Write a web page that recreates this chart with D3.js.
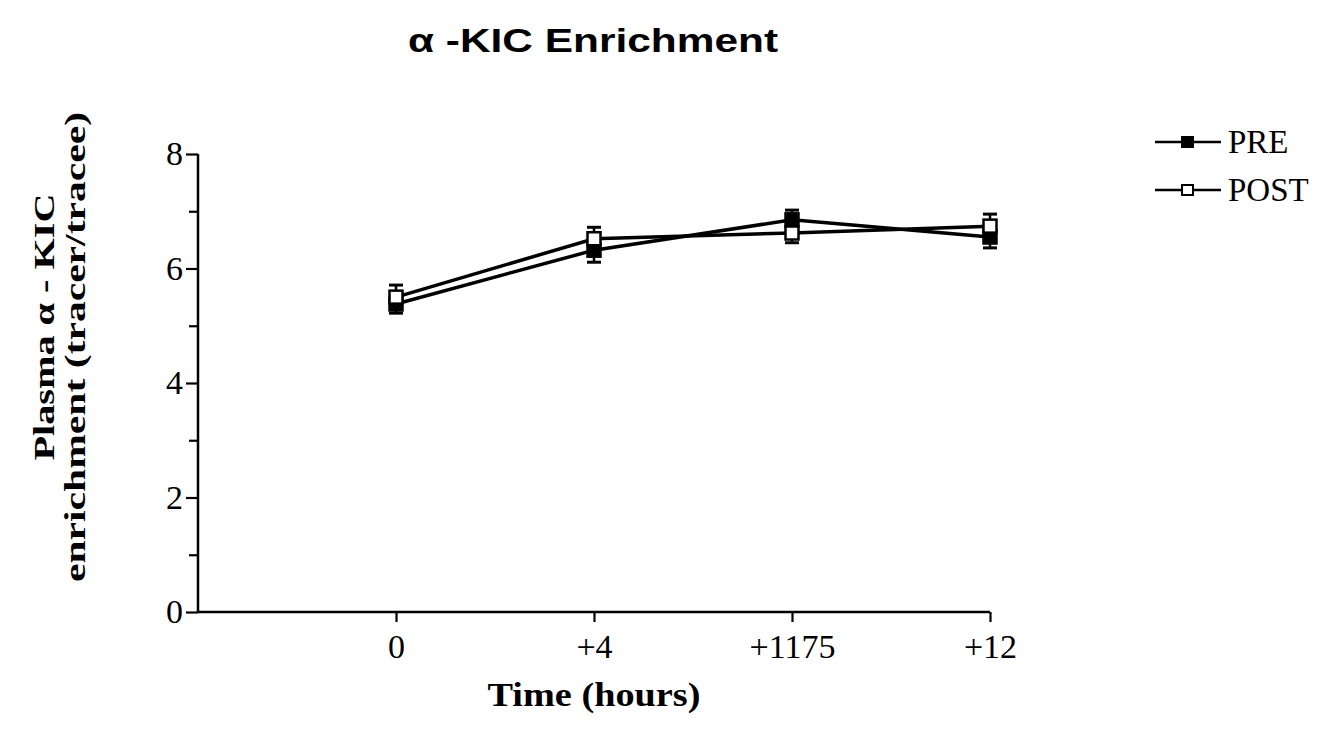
<!DOCTYPE html>
<html>
<head>
<meta charset="utf-8">
<script src="https://cdn.jsdelivr.net/npm/d3@7"></script>
<style>
  body { margin: 0; background: #fff; }
  svg { display: block; }
  .tick text { font-family: "Liberation Serif", "Times New Roman", serif; font-size: 34px; fill: #000; }
</style>
</head>
<body>
<svg></svg>
<script>
// values
var categories = ["0", "+4", "+1175", "+12"];
var pre = [5.38, 6.32, 6.85, 6.55];
var preErr = [0.16, 0.21, 0.17, 0.19];
var post = [5.50, 6.52, 6.62, 6.74];
var postErr = [0.21, 0.20, 0.17, 0.21];
var yMajor = [0, 2, 4, 6, 8];
var yMinor = [1, 3, 5, 7];

var width = 1329;
var height = 745;
var svg = d3.select("svg")
    .attr("width", width)
    .attr("height", height);

var x = d3.scaleLinear().domain([-1, 3]).range([198, 990]);
var y = d3.scaleLinear().domain([0, 8]).range([612, 154]);

// title
svg.append("text")
    .attr("x", 593)
    .attr("y", 52)
    .attr("text-anchor", "middle")
    .attr("textLength", 370)
    .attr("lengthAdjust", "spacingAndGlyphs")
    .style("font-family", "'Liberation Sans', Arial, sans-serif")
    .style("font-weight", "bold")
    .style("font-size", "34px")
    .text("\u03b1 -KIC Enrichment");

// axes
var yAxis = svg.append("g")
    .attr("transform", "translate(" + x(-1) + ",0)")
    .call(d3.axisLeft(y).tickValues(yMajor).tickSize(12).tickPadding(3).tickFormat(d3.format("d")));
var yAxisMinor = svg.append("g")
    .attr("transform", "translate(" + x(-1) + ",0)")
    .call(d3.axisLeft(y).tickValues(yMinor).tickSize(9).tickFormat(""));
var xAxis = svg.append("g")
    .attr("transform", "translate(0," + y(0) + ")")
    .call(d3.axisBottom(x).tickValues([0, 1, 2, 3]).tickSize(10).tickPadding(12)
        .tickFormat((d, i) => categories[i]));

[yAxis, yAxisMinor, xAxis].forEach(g => {
    g.select(".domain").attr("stroke-width", 2.5).attr("stroke", "#000");
    g.selectAll(".tick line").attr("stroke-width", 2.2).attr("stroke", "#000");
});
yAxis.select(".domain").attr("d", "M0," + y(8) + "V" + y(0));
yAxisMinor.select(".domain").remove();
xAxis.select(".domain").attr("d", "M" + x(-1) + ",0H" + x(3));

// axis titles
svg.append("text")
    .attr("transform", "translate(594,706)")
    .attr("text-anchor", "middle")
    .attr("textLength", 213)
    .attr("lengthAdjust", "spacingAndGlyphs")
    .style("font-family", "'Liberation Serif', 'Times New Roman', serif")
    .style("font-weight", "bold")
    .style("font-size", "33px")
    .text("Time (hours)");

svg.append("text")
    .attr("transform", "translate(54,327) rotate(-90)")
    .attr("text-anchor", "middle")
    .attr("textLength", 267)
    .attr("lengthAdjust", "spacingAndGlyphs")
    .style("font-family", "'Liberation Serif', 'Times New Roman', serif")
    .style("font-weight", "bold")
    .style("font-size", "30px")
    .text("Plasma  \u03b1 - KIC");

svg.append("text")
    .attr("transform", "translate(85,347) rotate(-90)")
    .attr("text-anchor", "middle")
    .attr("textLength", 470)
    .attr("lengthAdjust", "spacingAndGlyphs")
    .style("font-family", "'Liberation Serif', 'Times New Roman', serif")
    .style("font-weight", "bold")
    .style("font-size", "30px")
    .text("enrichment (tracer/tracee)");

// series
var series = [
    { name: "PRE", values: pre, err: preErr, fill: "#000" },
    { name: "POST", values: post, err: postErr, fill: "#fff" }
];

var line = d3.line()
    .x((d, i) => x(i))
    .y(d => y(d));

series.forEach(s => {
    svg.append("path")
        .datum(s.values)
        .attr("d", line)
        .attr("fill", "none")
        .attr("stroke", "#000")
        .attr("stroke-width", 3.5);
});

var capW = 7;
series.forEach(s => {
    var g = svg.append("g");
    s.values.forEach((v, i) => {
        var cx = x(i);
        var top = y(v + s.err[i]);
        var bot = y(v - s.err[i]);
        g.append("line").attr("x1", cx).attr("x2", cx).attr("y1", top).attr("y2", bot)
            .attr("stroke", "#000").attr("stroke-width", 2.5);
        g.append("line").attr("x1", cx - capW).attr("x2", cx + capW).attr("y1", top).attr("y2", top)
            .attr("stroke", "#000").attr("stroke-width", 3);
        g.append("line").attr("x1", cx - capW).attr("x2", cx + capW).attr("y1", bot).attr("y2", bot)
            .attr("stroke", "#000").attr("stroke-width", 3);
    });
});

series.forEach(s => {
    svg.append("g")
        .selectAll("rect")
        .data(s.values)
        .enter().append("rect")
        .attr("x", (d, i) => x(i) - 6.5)
        .attr("y", d => y(d) - 6.5)
        .attr("width", 13)
        .attr("height", 13)
        .attr("fill", s.fill)
        .attr("stroke", "#000")
        .attr("stroke-width", 2.5);
});

// legend
var legend = svg.append("g");
series.forEach((s, i) => {
    var ly = 142 + i * 48;
    legend.append("line").attr("x1", 1155).attr("x2", 1221).attr("y1", ly).attr("y2", ly)
        .attr("stroke", "#000").attr("stroke-width", 2.5);
    legend.append("rect").attr("x", 1182).attr("y", ly - 5).attr("width", 11).attr("height", 10)
        .attr("fill", s.fill).attr("stroke", "#000").attr("stroke-width", 2);
    legend.append("text").attr("x", 1228).attr("y", ly + 11)
        .style("font-family", "'Liberation Serif', 'Times New Roman', serif")
        .style("font-size", "33px")
        .text(s.name);
});
</script>
</body>
</html>
